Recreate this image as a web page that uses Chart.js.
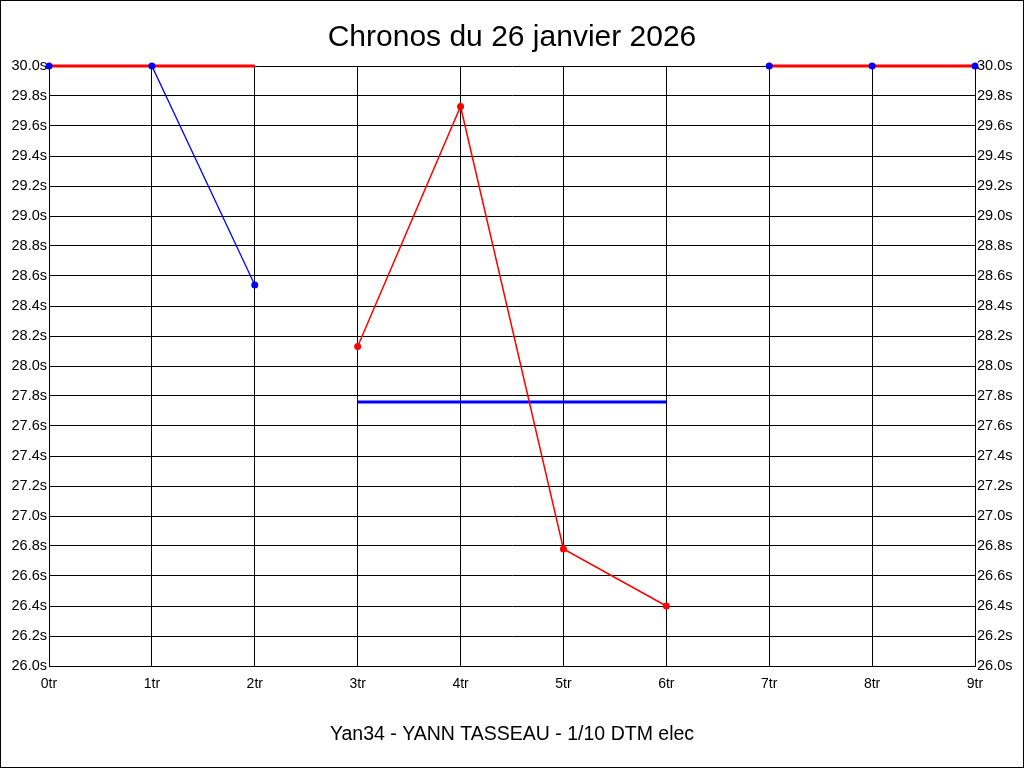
<!DOCTYPE html>
<html>
<head>
<meta charset="utf-8">
<title>Chronos</title>
<script src="https://cdn.jsdelivr.net/npm/chart.js@4/dist/chart.umd.min.js"></script>
<style>
  body { margin: 0; background: #fff; }
  canvas { display: block; }
</style>
</head>
<body>
<canvas id="chartChronos" width="1024" height="768"></canvas>
<script>
const tours = ["0tr", "1tr", "2tr", "3tr", "4tr", "5tr", "6tr", "7tr", "8tr", "9tr"];

// temps au tour (null = pas de point pour cette série)
const chronosBleus = [30.0, 30.0, 28.54, null, null, null, null, 30.0, 30.0, 30.0];
const chronosRouges = [null, null, null, 28.13, 29.73, 26.78, 26.40, null, null, null];

// moyennes par relais
const moyenneRouge = [30.0, 30.0, 30.0, null, null, null, null, 30.0, 30.0, 30.0];
const moyenneBleue = [null, null, null, 27.76, 27.76, 27.76, 27.76, null, null, null];

const titre = "Chronos du 26 janvier 2026";
const pilote = "Yan34 - YANN TASSEAU - 1/10 DTM elec";

const police = "Arial, 'Liberation Sans', sans-serif";

const cadre = {
  id: "cadre",
  afterDraw(chart) {
    const ctx = chart.ctx;
    ctx.save();
    ctx.strokeStyle = "#000";
    ctx.lineWidth = 1;
    ctx.strokeRect(0.5, 0.5, chart.width - 1, chart.height - 1);
    ctx.restore();
  }
};

const axeY = (position) => ({
  type: "linear",
  position: position,
  min: 26,
  max: 30,
  border: { display: true, color: "#000" },
  grid: {
    color: "#000",
    lineWidth: 1,
    drawTicks: false,
    drawOnChartArea: position === "left"
  },
  ticks: {
    stepSize: 0.2,
    padding: 2,
    color: "#000",
    font: { family: police, size: 14.5 },
    callback: (v) => v.toFixed(1) + "s"
  },
  afterFit: (scale) => { scale.width = 49; }
});

// points seuls (dessinés par-dessus les moyennes)
const points = (data, couleur, ordre) => ({
  data: data,
  showLine: false,
  borderColor: couleur,
  backgroundColor: couleur,
  pointRadius: 3.5,
  pointBorderWidth: 0,
  clip: false,
  order: ordre
});

// lignes seules
const ligne = (data, couleur, epaisseur, ordre) => ({
  data: data,
  borderColor: couleur,
  borderWidth: epaisseur,
  pointRadius: 0,
  spanGaps: false,
  clip: false,
  order: ordre
});

const config = {
  type: "line",
  data: {
    labels: tours,
    datasets: [
      points(chronosBleus, "#0000ff", 0),
      points(chronosRouges, "#ff0000", 1),
      ligne(chronosRouges, "#ff0000", 1.5, 2),
      ligne(moyenneRouge, "#ff0000", 3, 3),
      ligne(moyenneBleue, "#0000ff", 3, 4),
      ligne(chronosBleus, "#0000ff", 1.3, 5)
    ]
  },
  options: {
    responsive: false,
    animation: false,
    devicePixelRatio: 1,
    layout: { padding: 0 },
    elements: { line: { tension: 0 } },
    plugins: {
      legend: { display: false },
      tooltip: { enabled: false },
      title: {
        display: true,
        text: titre,
        color: "#000",
        font: { family: police, size: 30, weight: "normal" },
        padding: { top: 20, bottom: 10 }
      },
      subtitle: {
        display: true,
        position: "bottom",
        text: pilote,
        color: "#000",
        font: { family: police, size: 19.5, weight: "normal" },
        padding: { top: 27, bottom: 21.6 }
      }
    },
    scales: {
      x: {
        border: { display: true, color: "#000" },
        grid: { color: "#000", lineWidth: 1, drawTicks: false },
        ticks: {
          padding: 10,
          color: "#000",
          maxRotation: 0,
          autoSkip: false,
          font: { family: police, size: 14 }
        },
        afterFit: (scale) => { scale.height = 30; }
      },
      y: axeY("left"),
      y2: axeY("right")
    }
  },
  plugins: [cadre]
};

const chronosChart = new Chart(document.getElementById("chartChronos"), config);
</script>
</body>
</html>
